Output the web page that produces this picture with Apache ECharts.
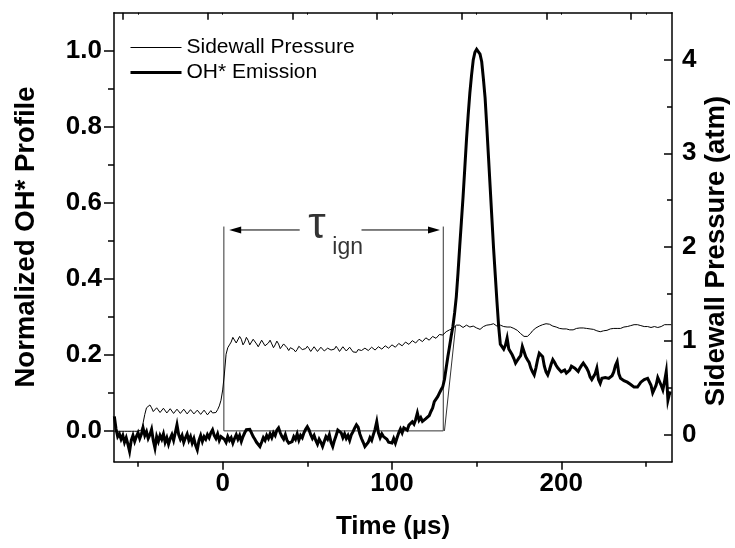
<!DOCTYPE html>
<html><head><meta charset="utf-8">
<script src="https://cdn.jsdelivr.net/npm/echarts@6/dist/echarts.min.js"></script>
<style>html,body{margin:0;padding:0;background:#fff}#c{width:735px;height:548px}</style>
</head><body><div id="c"></div>
<script>
// ---- data (time in microseconds) ----
const timeUs = [
-64,-63,-62,-61,-60,-59,-58,-57,-56,-55,
-54,-53,-52,-51,-50,-49,-48,-47,-46,-45,
-44,-43,-42,-41,-40,-39,-38,-37,-36,-35,
-34,-33,-32,-31,-30,-29,-28,-27,-26,-25,
-24,-23,-22,-21,-20,-19,-18,-17,-16,-15,
-14,-13,-12,-11,-10,-9,-8,-7,-6,-5,
-4,-3,-2,-1,0,1,2,3,4,5,
6,7,8,9,10,11,12,13,14,15,
16,17,18,19,20,21,22,23,24,25,
26,27,28,29,30,31,32,33,34,35,
36,37,38,39,40,41,42,43,44,45,
46,47,48,49,50,51,52,53,54,55,
56,57,58,59,60,61,62,63,64,65,
66,67,68,69,70,71,72,73,74,75,
76,77,78,79,80,81,82,83,84,85,
86,87,88,89,90,91,92,93,94,95,
96,97,98,99,100,101,102,103,104,105,
106,107,108,109,110,111,112,113,114,115,
116,117,118,119,120,121,122,123,124,125,
126,127,128,129,130,131,132,133,134,135,
136,137,138,139,140,141,142,143,144,145,
146,147,148,149,150,151,152,153,154,155,
156,157,158,159,160,161,162,163,164,165,
166,167,168,169,170,171,172,173,174,175,
176,177,178,179,180,181,182,183,184,185,
186,187,188,189,190,191,192,193,194,195,
196,197,198,199,200,201,202,203,204,205,
206,207,208,209,210,211,212,213,214,215,
216,217,218,219,220,221,222,223,224,225,
226,227,228,229,230,231,232,233,234,235,
236,237,238,239,240,241,242,243,244,245,
246,247,248,249,250,251,252,253,254,255,
256,257,258,259,260,261,262,263,264,265
];
// normalized OH* emission (left axis)
const ohEmission = [
0.038,0.005,-0.015,-0.008,-0.022,-0.012,-0.03,-0.018,-0.035,-0.054,
-0.025,-0.012,-0.028,-0.015,-0.005,-0.02,-0.008,0.007,-0.012,-0.002,
-0.02,-0.01,0.004,-0.025,-0.045,-0.015,-0.028,-0.012,-0.022,-0.008,
-0.03,-0.018,-0.035,-0.02,-0.01,-0.025,-0.005,0.016,-0.01,-0.022,
-0.012,-0.03,-0.018,-0.008,-0.025,-0.015,-0.032,-0.02,-0.038,-0.05,
-0.025,-0.012,-0.028,-0.015,-0.022,-0.01,-0.018,-0.005,0.003,-0.012,
-0.02,-0.008,-0.025,-0.015,-0.01,-0.022,-0.03,-0.015,-0.025,-0.018,
-0.032,-0.02,-0.01,-0.022,-0.012,-0.028,-0.015,-0.005,0.003,0.007,
0.004,-0.005,-0.015,-0.022,-0.03,-0.035,-0.041,-0.03,-0.018,-0.025,
-0.012,-0.02,-0.008,-0.018,-0.005,-0.012,0.002,0.008,-0.005,-0.015,
-0.022,-0.01,-0.025,-0.032,-0.037,-0.028,-0.015,-0.022,-0.008,-0.024,
-0.012,-0.018,-0.005,0.004,0.011,0.003,-0.01,-0.02,-0.012,-0.025,
-0.035,-0.022,-0.03,-0.041,-0.028,-0.015,-0.022,-0.01,-0.03,-0.041,
-0.025,-0.012,0.002,0.007,-0.005,-0.018,-0.008,-0.02,-0.012,-0.025,
-0.01,-0.002,0.008,0.016,0.01,-0.008,-0.02,-0.03,-0.041,-0.045,
-0.03,-0.018,-0.025,-0.01,0.004,0.024,-0.005,-0.018,-0.008,-0.015,
-0.011,-0.022,-0.03,-0.025,-0.032,-0.02,-0.032,-0.018,-0.005,0.005,
-0.005,0.008,0.011,0.002,0.015,0.01,0.024,0.018,0.03,0.047,
0.028,0.035,0.025,0.02,0.032,0.028,0.04,0.051,0.06,0.077,
0.072,0.09,0.099,0.108,0.116,0.135,0.165,0.195,0.222,0.25,
0.275,0.31,0.353,0.415,0.484,0.55,0.616,0.69,0.765,0.83,
0.888,0.935,0.975,0.995,1.003,1.0,0.99,0.97,0.925,0.875,
0.8,0.72,0.64,0.56,0.48,0.41,0.34,0.275,0.228,0.225,
0.215,0.225,0.244,0.215,0.212,0.2,0.19,0.178,0.185,0.192,
0.198,0.222,0.226,0.195,0.187,0.18,0.165,0.155,0.147,0.165,
0.187,0.204,0.2,0.195,0.17,0.155,0.147,0.16,0.175,0.187,
0.18,0.172,0.165,0.16,0.155,0.15,0.16,0.152,0.147,0.16,
0.17,0.173,0.165,0.16,0.156,0.165,0.172,0.178,0.182,0.165,
0.156,0.142,0.135,0.13,0.15,0.165,0.135,0.125,0.138,0.143,
0.14,0.145,0.138,0.14,0.145,0.155,0.172,0.182,0.15,0.138,
0.14,0.132,0.13,0.128,0.125,0.122,0.12,0.115,0.112,0.115,
0.12,0.128,0.13,0.135,0.14,0.138,0.143,0.12,0.1,0.095,
0.12,0.14,0.143,0.12,0.108,0.13,0.156,0.081,0.1,0.099
];
// sidewall pressure in atm (right axis)
const sidewallPressure = [
0.04,0.03,0.04,0.035,0.04,0.045,0.04,0.035,0.04,0.045,
0.04,0.035,0.04,0.045,0.04,0.045,0.055,0.13,0.22,0.29,
0.31,0.32,0.29,0.25,0.27,0.29,0.27,0.24,0.26,0.285,
0.27,0.235,0.25,0.28,0.26,0.23,0.245,0.275,0.255,0.23,
0.245,0.275,0.255,0.225,0.24,0.27,0.25,0.225,0.235,0.265,
0.245,0.22,0.235,0.265,0.24,0.215,0.23,0.26,0.235,0.215,
0.24,0.27,0.31,0.37,0.48,0.65,0.86,0.93,0.96,0.99,
1.04,1.06,0.98,0.97,1.05,1.02,0.96,0.99,1.04,1.01,
0.96,0.97,1.02,1.03,0.97,0.94,0.96,1.01,1.0,0.95,
0.94,0.98,1.01,0.97,0.93,0.96,1.0,0.97,0.92,0.93,
0.97,0.975,0.93,0.9,0.93,0.95,0.91,0.886,0.91,0.945,
0.95,0.91,0.89,0.92,0.945,0.92,0.89,0.905,0.94,0.925,
0.89,0.9,0.935,0.93,0.895,0.89,0.925,0.94,0.905,0.89,
0.915,0.945,0.92,0.89,0.905,0.94,0.93,0.895,0.9,0.935,
0.925,0.885,0.875,0.88,0.91,0.92,0.9,0.895,0.925,0.92,
0.9,0.905,0.935,0.925,0.905,0.91,0.94,0.935,0.915,0.925,
0.95,0.945,0.925,0.935,0.96,0.955,0.935,0.95,0.975,0.965,
0.95,0.965,0.99,0.98,0.965,0.98,1.005,0.995,0.98,0.995,
1.02,1.01,0.995,1.01,1.035,1.025,1.01,1.025,1.05,1.045,
1.03,1.045,1.07,1.06,1.065,1.08,1.1,1.1,1.12,1.13,
1.135,1.155,1.17,1.165,1.17,1.15,1.145,1.16,1.17,1.155,
1.15,1.165,1.16,1.145,1.14,1.12,1.125,1.14,1.155,1.16,
1.17,1.18,1.175,1.18,1.185,1.17,1.16,1.165,1.17,1.16,
1.155,1.16,1.15,1.145,1.15,1.14,1.135,1.13,1.115,1.095,
1.08,1.06,1.05,1.046,1.05,1.065,1.085,1.11,1.125,1.14,
1.15,1.16,1.165,1.175,1.18,1.185,1.19,1.18,1.17,1.16,
1.155,1.15,1.14,1.135,1.14,1.13,1.125,1.13,1.12,1.12,
1.125,1.12,1.13,1.135,1.13,1.14,1.145,1.14,1.145,1.135,
1.14,1.13,1.12,1.125,1.115,1.11,1.105,1.1,1.105,1.11,
1.12,1.115,1.125,1.13,1.125,1.135,1.14,1.135,1.14,1.135,
1.145,1.15,1.145,1.155,1.16,1.165,1.17,1.175,1.18,1.175,
1.17,1.165,1.16,1.155,1.15,1.155,1.15,1.145,1.15,1.155,
1.15,1.145,1.145,1.155,1.165,1.175,1.18,1.175,1.17,1.175
];
// ignition-delay annotation (data coordinates, left axis)
const bracketTime = [0.7, 0.7, 130.3, 130.3];
const bracketValue = [0.537, 0, 0, 0.537];
const tangentTime = [131, 137.6];
const tangentValue = [0, 0.276];
const arrowValue = 0.528;
const leftArrowTime = [45.5, 7.4];
const rightArrowTime = [82, 124.8];
const tauPos = [55.6, 0.538];
const ignPos = [73.8, 0.482];

// axis ticks and labels
const xMajorTicks = [0, 100, 200];
const xMinorTicks = [-50, 50, 150, 250];
const xTopTicks = [-58.8, -8.8, 41.2, 91.2, 141.2, 191.2, 241.2];
const xTopSmallTicks = [-50, 0, 50, 100, 150, 200, 250];
const leftMajorTicks = [0, 0.2, 0.4, 0.6, 0.8, 1.0];
const leftMinorTicks = [0.1, 0.3, 0.5, 0.7, 0.9];
const rightMajorTicks = [0, 1, 2, 3, 4];
const rightMinorTicks = [0.5, 1.5, 2.5, 3.5];
const X_RANGE = [-64.2, 265.4];
const LEFT_RANGE = [-0.081, 1.099];
const RIGHT_RANGE = [-0.284, 4.497];

const FONT = "'Liberation Sans', Arial, Helvetica, sans-serif";
const pairs = (xs, ys) => xs.map((x, i) => [x, ys[i]]);

const axisLineStyle = { show: true, onZero: false, lineStyle: { color: '#000', width: 1.5 } };
const noLine = { show: false, onZero: false };
const tickStyle = { color: '#000', width: 1.5 };
const labelStyle = { color: '#000', fontFamily: FONT, fontWeight: 'bold', fontSize: 26 };
const hiddenIconStyle = { color: 'rgba(0,0,0,0)', borderColor: 'rgba(0,0,0,0)', borderWidth: 0, opacity: 0 };

const chart = echarts.init(document.getElementById('c'), null, { renderer: 'canvas' });
chart.setOption({
  animation: false,
  backgroundColor: '#fff',
  grid: { left: 114, right: 63, top: 12.7, bottom: 86.3, containLabel: false },
  legend: {
    orient: 'vertical', left: 124, top: 32, itemWidth: 51, itemHeight: 14, itemGap: 4,
    textStyle: { fontFamily: FONT, fontSize: 21, color: '#000' },
    itemStyle: hiddenIconStyle,
    data: [
      { name: 'Sidewall Pressure', lineStyle: { width: 1, color: '#000' }, itemStyle: hiddenIconStyle },
      { name: 'OH* Emission', lineStyle: { width: 3, color: '#000' }, itemStyle: hiddenIconStyle }
    ],
    selectedMode: false
  },
  xAxis: [
    { type: 'value', position: 'bottom', min: X_RANGE[0], max: X_RANGE[1],
      axisLine: axisLineStyle, splitLine: { show: false },
      axisTick: { show: true, customValues: xMajorTicks, length: 8, lineStyle: tickStyle },
      axisLabel: Object.assign({ customValues: xMajorTicks, margin: 9 }, labelStyle) },
    { type: 'value', position: 'bottom', min: X_RANGE[0], max: X_RANGE[1],
      axisLine: noLine, splitLine: { show: false }, axisLabel: { show: false },
      axisTick: { show: true, customValues: xMinorTicks, length: 5, lineStyle: tickStyle } },
    { type: 'value', position: 'top', min: X_RANGE[0], max: X_RANGE[1],
      axisLine: axisLineStyle, splitLine: { show: false }, axisLabel: { show: false },
      axisTick: { show: true, inside: true, customValues: xTopTicks, length: 7, lineStyle: tickStyle } },
    { type: 'value', position: 'top', min: X_RANGE[0], max: X_RANGE[1],
      axisLine: noLine, splitLine: { show: false }, axisLabel: { show: false },
      axisTick: { show: true, inside: true, customValues: xTopSmallTicks, length: 2, lineStyle: { color: '#000', width: 1 } } }
  ],
  yAxis: [
    { type: 'value', position: 'left', min: LEFT_RANGE[0], max: LEFT_RANGE[1],
      axisLine: axisLineStyle, splitLine: { show: false },
      axisTick: { show: true, customValues: leftMajorTicks, length: 10, lineStyle: tickStyle },
      axisLabel: Object.assign({ customValues: leftMajorTicks, margin: 12, formatter: v => v.toFixed(1) }, labelStyle) },
    { type: 'value', position: 'right', min: RIGHT_RANGE[0], max: RIGHT_RANGE[1],
      axisLine: axisLineStyle, splitLine: { show: false },
      axisTick: { show: true, inside: true, customValues: rightMajorTicks, length: 8, lineStyle: tickStyle },
      axisLabel: Object.assign({ customValues: rightMajorTicks, margin: 10 }, labelStyle) },
    { type: 'value', position: 'left', min: LEFT_RANGE[0], max: LEFT_RANGE[1],
      axisLine: noLine, splitLine: { show: false }, axisLabel: { show: false },
      axisTick: { show: true, customValues: leftMinorTicks, length: 6, lineStyle: tickStyle } },
    { type: 'value', position: 'right', min: RIGHT_RANGE[0], max: RIGHT_RANGE[1],
      axisLine: noLine, splitLine: { show: false }, axisLabel: { show: false },
      axisTick: { show: true, inside: true, customValues: rightMinorTicks, length: 5, lineStyle: tickStyle } }
  ],
  series: [
    { name: 'Sidewall Pressure', type: 'line', xAxisIndex: 0, yAxisIndex: 1, symbol: 'none', silent: true,
      data: pairs(timeUs, sidewallPressure), lineStyle: { color: '#000', width: 1 }, itemStyle: { color: '#000' }, z: 3 },
    { name: 'OH* Emission', type: 'line', xAxisIndex: 0, yAxisIndex: 0, symbol: 'none', silent: true,
      data: pairs(timeUs, ohEmission), lineStyle: { color: '#000', width: 3, join: 'miter' }, itemStyle: { color: '#000' }, z: 4 },
    { name: 'bracket', type: 'line', xAxisIndex: 0, yAxisIndex: 0, symbol: 'none', silent: true,
      data: pairs(bracketTime, bracketValue), lineStyle: { color: '#333', width: 1 }, z: 2 },
    { name: 'tangent', type: 'line', xAxisIndex: 0, yAxisIndex: 0, symbol: 'none', silent: true,
      data: pairs(tangentTime, tangentValue), lineStyle: { color: '#333', width: 1 }, z: 2 },
    { name: 'arrowL', type: 'line', xAxisIndex: 0, yAxisIndex: 0, silent: true, showSymbol: true,
      data: [{ value: [leftArrowTime[0], arrowValue], symbol: 'none' },
             { value: [leftArrowTime[1], arrowValue], symbol: 'triangle', symbolSize: [7, 12], symbolRotate: 90 }],
      lineStyle: { color: '#000', width: 1 }, itemStyle: { color: '#000' }, z: 2 },
    { name: 'arrowR', type: 'line', xAxisIndex: 0, yAxisIndex: 0, silent: true, showSymbol: true,
      data: [{ value: [rightArrowTime[0], arrowValue], symbol: 'none' },
             { value: [rightArrowTime[1], arrowValue], symbol: 'triangle', symbolSize: [7, 12], symbolRotate: -90 }],
      lineStyle: { color: '#000', width: 1 }, itemStyle: { color: '#000' }, z: 2 },
    { name: 'tauLabel', type: 'scatter', xAxisIndex: 0, yAxisIndex: 0, silent: true, symbolSize: 1,
      itemStyle: { color: 'rgba(0,0,0,0)' },
      data: [{ value: tauPos, label: { formatter: 'τ', fontSize: 44 } },
             { value: ignPos, label: { formatter: 'ign', fontSize: 23 } }],
      label: { show: true, position: 'inside', color: '#000', fontFamily: FONT }, z: 5 }
  ],
  graphic: [
    { type: 'text', x: 26, y: 237, rotation: Math.PI / 2, silent: true,
      style: { text: 'Normalized OH* Profile', font: "bold 27.5px " + FONT, fill: '#000', align: 'center', verticalAlign: 'middle' } },
    { type: 'text', x: 716, y: 251, rotation: Math.PI / 2, silent: true,
      style: { text: 'Sidewall Pressure (atm)', font: "bold 27.5px " + FONT, fill: '#000', align: 'center', verticalAlign: 'middle' } },
    { type: 'text', x: 393, y: 527, silent: true,
      style: { text: 'Time (µs)', font: "bold 26px " + FONT, fill: '#000', align: 'center', verticalAlign: 'middle' } }
  ]
});
</script></body></html>
